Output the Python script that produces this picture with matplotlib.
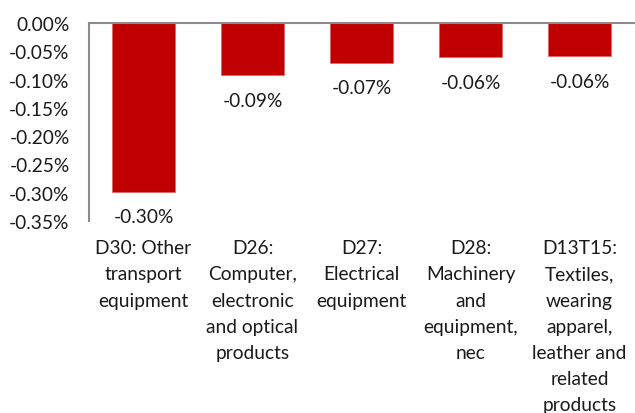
import matplotlib
matplotlib.use("Agg")
import matplotlib.pyplot as plt

categories = [
    "D30: Other\ntransport\nequipment",
    "D26:\nComputer,\nelectronic\nand optical\nproducts",
    "D27:\nElectrical\nequipment",
    "D28:\nMachinery\nand\nequipment,\nnec",
    "D13T15:\nTextiles,\nwearing\napparel,\nleather and\nrelated\nproducts",
]
values = [-0.298, -0.0925, -0.0707, -0.0607, -0.0589]  # percent
yticks = [0.0, -0.05, -0.10, -0.15, -0.20, -0.25, -0.30, -0.35]

plt.rcParams["font.family"] = ["Lato", "DejaVu Sans"]
W, H = 635, 414
fig = plt.figure(figsize=(W / 100, H / 100), dpi=100)
ax = fig.add_axes([89 / W, 1 - 222 / H, (634 - 89) / W, (222 - 24) / H])

x = range(len(categories))
ax.bar(x, values, width=0.57, color="#C00000", edgecolor="#E06060", linewidth=0.5)

fs = 13.8
ax.set_ylim(-0.35, 0.0)
ax.set_xlim(-0.5, len(categories) - 0.5)
ax.set_yticks(yticks)
ax.set_yticklabels([f"{v:.2f}%" for v in yticks], fontsize=fs, color="#1a1a1a")
ax.set_xticks(list(x))
ax.set_xticklabels(categories, fontsize=fs, color="#1a1a1a", linespacing=1.66, va="top")
ax.tick_params(axis="both", length=0)
ax.tick_params(axis="y", pad=14)
ax.tick_params(axis="x", pad=13)

for s in ("right", "bottom"):
    ax.spines[s].set_visible(False)
for s in ("left", "top"):
    ax.spines[s].set_color("#8c8c8c")
    ax.spines[s].set_linewidth(1.5)

for xi, v in zip(x, values):
    ax.annotate(f"{v:.2f}%", xy=(xi, v), xytext=(0, -18), textcoords="offset points",
                ha="center", va="center", fontsize=fs, color="#1a1a1a")

fig.savefig("out.png", dpi=100)
